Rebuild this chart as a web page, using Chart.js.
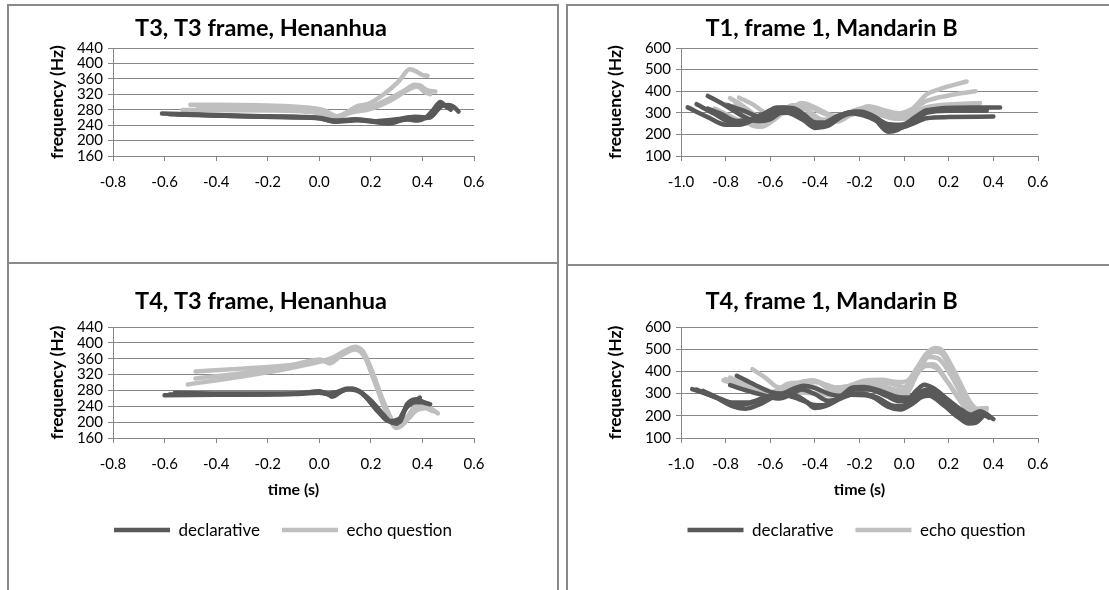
<!DOCTYPE html>
<html>
<head>
<meta charset="utf-8">
<script src="https://cdn.jsdelivr.net/npm/chart.js@4.4.1/dist/chart.umd.min.js"></script>
<style>
  body { margin: 0; background: #fff; width: 1109px; height: 590px; overflow: hidden; position: relative; }
  .panel { position: absolute; box-sizing: border-box; border: 2px solid #898989; }
  canvas { position: absolute; }
</style>
</head>
<body>
<div class="panel" style="left:7px;top:4px;width:552px;height:260px"></div>
<div class="panel" style="left:7px;top:262px;width:552px;height:400px"></div>
<div class="panel" style="left:566px;top:4px;width:600px;height:262px"></div>
<div class="panel" style="left:566px;top:264px;width:600px;height:400px"></div>
<canvas id="tl" width="548" height="256" style="left:9px;top:6px;width:548px;height:256px"></canvas>
<canvas id="tr" width="577" height="258" style="left:568px;top:6px;width:577px;height:258px"></canvas>
<canvas id="bl" width="548" height="326" style="left:9px;top:264px;width:548px;height:326px"></canvas>
<canvas id="br" width="577" height="324" style="left:568px;top:266px;width:577px;height:324px"></canvas>
<script>
// tick labels
const henanX = [-0.8, -0.6, -0.4, -0.2, 0.0, 0.2, 0.4, 0.6];
const henanY = [160, 200, 240, 280, 320, 360, 400, 440];
const mandX = [-1.0, -0.8, -0.6, -0.4, -0.2, 0.0, 0.2, 0.4, 0.6];
const mandY = [100, 200, 300, 400, 500, 600];

// T3, T3 frame, Henanhua  [time (s), frequency (Hz)]
const hT3D1 = [[-0.61,270],[-0.4,266],[-0.2,263],[-0.05,261],[0.0,258],[0.06,250],[0.14,254],[0.22,250],[0.3,255],[0.37,262],[0.41,260],[0.44,278],[0.47,300],[0.49,290],[0.51,280]];
const hT3D2 = [[-0.58,268],[-0.3,263],[-0.1,260],[0.0,258],[0.06,249],[0.15,253],[0.27,244],[0.34,255],[0.38,252],[0.42,262],[0.46,285],[0.5,292],[0.52,288],[0.54,275]];
const hT3D3 = [[-0.55,268],[-0.2,262],[0.0,259],[0.06,252],[0.14,255],[0.22,250],[0.3,252],[0.38,258],[0.43,260],[0.46,280],[0.48,292],[0.5,285]];
const hT3E1 = [[-0.5,293],[-0.2,291],[-0.05,286],[0.02,278],[0.07,263],[0.11,275],[0.15,290],[0.19,295],[0.25,320],[0.31,355],[0.35,385],[0.38,378],[0.4,370],[0.42,368]];
const hT3E2 = [[-0.47,286],[-0.2,284],[0.0,281],[0.06,262],[0.12,275],[0.19,285],[0.26,305],[0.33,330],[0.37,345],[0.39,343],[0.42,330],[0.45,327]];
const hT3E3 = [[-0.53,279],[-0.2,278],[0.0,271],[0.06,258],[0.12,272],[0.2,282],[0.28,305],[0.34,330],[0.38,340],[0.41,325],[0.43,320]];

// T1, frame 1, Mandarin B
const mT1D1 = [[-0.97,325],[-0.88,280],[-0.8,245],[-0.74,245],[-0.66,275],[-0.58,318],[-0.54,325],[-0.48,305],[-0.42,255],[-0.38,240],[-0.32,265],[-0.26,298],[-0.21,305],[-0.14,280],[-0.07,212],[-0.03,220],[0.02,258],[0.08,300],[0.18,322],[0.3,325],[0.43,325]];
const mT1D2 = [[-0.93,340],[-0.85,295],[-0.78,258],[-0.72,255],[-0.64,290],[-0.58,305],[-0.52,300],[-0.45,265],[-0.4,230],[-0.35,245],[-0.28,290],[-0.22,305],[-0.15,285],[-0.08,235],[-0.03,228],[0.02,245],[0.1,300],[0.2,310],[0.37,310]];
const mT1D3 = [[-0.88,378],[-0.82,345],[-0.74,295],[-0.66,262],[-0.6,270],[-0.55,300],[-0.5,300],[-0.42,255],[-0.36,255],[-0.3,285],[-0.24,298],[-0.16,280],[-0.08,240],[-0.02,232],[0.04,250],[0.1,275],[0.2,280],[0.4,283]];
const mT1D4 = [[-0.79,335],[-0.72,310],[-0.64,280],[-0.6,285],[-0.55,322],[-0.5,315],[-0.44,280],[-0.38,248],[-0.32,262],[-0.25,300],[-0.19,305],[-0.12,272],[-0.06,240],[-0.01,238],[0.05,270],[0.12,310],[0.25,318],[0.36,318]];
const mT1D5 = [[-0.88,320],[-0.82,295],[-0.75,262],[-0.69,270],[-0.62,300],[-0.57,325],[-0.5,322],[-0.44,285],[-0.39,232],[-0.34,240],[-0.28,282],[-0.22,300],[-0.15,292],[-0.08,250],[-0.02,245],[0.04,265],[0.1,312],[0.22,318],[0.37,318]];
const mT1E1 = [[-0.78,368],[-0.72,330],[-0.66,285],[-0.62,275],[-0.56,300],[-0.5,335],[-0.45,335],[-0.38,305],[-0.32,285],[-0.26,295],[-0.19,320],[-0.12,318],[-0.05,295],[0.0,290],[0.05,330],[0.1,385],[0.16,410],[0.28,445]];
const mT1E2 = [[-0.74,370],[-0.68,340],[-0.62,300],[-0.57,290],[-0.5,325],[-0.46,345],[-0.4,325],[-0.33,290],[-0.28,280],[-0.22,305],[-0.16,330],[-0.08,310],[-0.02,298],[0.04,320],[0.1,355],[0.2,380],[0.32,400]];
const mT1E3 = [[-0.8,340],[-0.74,295],[-0.68,240],[-0.64,235],[-0.58,270],[-0.5,330],[-0.44,315],[-0.37,268],[-0.3,260],[-0.22,305],[-0.16,325],[-0.08,300],[-0.02,290],[0.05,310],[0.12,330],[0.34,345]];
const mT1E4 = [[-0.85,320],[-0.78,285],[-0.7,250],[-0.64,255],[-0.58,285],[-0.5,310],[-0.42,280],[-0.35,258],[-0.28,282],[-0.2,315],[-0.12,295],[-0.04,272],[0.02,275],[0.1,318],[0.33,338]];
const mT1E5 = [[-0.76,335],[-0.7,300],[-0.62,282],[-0.52,300],[-0.44,290],[-0.36,268],[-0.28,280],[-0.18,300],[-0.08,285],[0.0,278],[0.08,305],[0.18,325],[0.3,335]];

// T4, T3 frame, Henanhua
const hT4D1 = [[-0.6,268],[-0.4,269],[-0.2,270],[-0.08,272],[0.0,278],[0.03,272],[0.07,276],[0.11,285],[0.15,280],[0.2,255],[0.25,218],[0.28,200],[0.31,200],[0.34,245],[0.36,256],[0.38,258],[0.41,248]];
const hT4D2 = [[-0.56,274],[-0.3,272],[-0.1,272],[0.0,276],[0.03,272],[0.05,264],[0.08,275],[0.11,283],[0.16,275],[0.22,235],[0.27,203],[0.3,196],[0.33,230],[0.36,250],[0.4,250],[0.43,245]];
const hT4D3 = [[-0.58,270],[-0.3,270],[-0.1,271],[0.0,274],[0.04,270],[0.09,280],[0.13,284],[0.17,270],[0.23,225],[0.27,202],[0.31,208],[0.34,238],[0.37,252],[0.39,262]];
const hT4E1 = [[-0.48,328],[-0.3,335],[-0.1,345],[0.0,358],[0.02,355],[0.04,348],[0.09,372],[0.14,388],[0.17,378],[0.21,320],[0.25,250],[0.29,195],[0.31,188],[0.34,205],[0.38,232],[0.41,240],[0.43,235],[0.46,222]];
const hT4E2 = [[-0.48,310],[-0.25,328],[-0.05,350],[0.01,355],[0.04,350],[0.09,370],[0.14,383],[0.18,360],[0.22,295],[0.26,235],[0.3,190],[0.33,208],[0.37,228],[0.41,235],[0.44,228]];
const hT4E3 = [[-0.51,295],[-0.3,315],[-0.12,335],[0.0,352],[0.05,362],[0.1,380],[0.14,390],[0.17,375],[0.21,310],[0.26,225],[0.3,185],[0.33,200],[0.37,240],[0.4,245],[0.43,238]];

// T4, frame 1, Mandarin B
const mT4D1 = [[-0.95,320],[-0.86,290],[-0.77,260],[-0.7,260],[-0.62,285],[-0.55,295],[-0.5,285],[-0.44,262],[-0.39,240],[-0.33,258],[-0.26,292],[-0.2,300],[-0.12,282],[-0.05,245],[0.0,243],[0.05,265],[0.09,300],[0.12,302],[0.18,265],[0.24,215],[0.29,180],[0.33,190],[0.36,210],[0.4,185]];
const mT4D2 = [[-0.93,318],[-0.84,280],[-0.76,240],[-0.71,232],[-0.64,255],[-0.57,290],[-0.5,295],[-0.44,265],[-0.4,235],[-0.35,245],[-0.28,280],[-0.22,298],[-0.15,290],[-0.07,240],[-0.02,228],[0.03,250],[0.08,285],[0.11,290],[0.18,245],[0.24,195],[0.29,165],[0.32,168],[0.36,205]];
const mT4D3 = [[-0.78,338],[-0.7,312],[-0.62,290],[-0.56,278],[-0.5,300],[-0.46,318],[-0.4,298],[-0.34,268],[-0.28,282],[-0.22,318],[-0.16,318],[-0.08,290],[-0.02,265],[0.02,268],[0.07,305],[0.1,318],[0.16,290],[0.22,240],[0.28,200],[0.32,192],[0.37,205]];
const mT4D4 = [[-0.75,380],[-0.67,340],[-0.6,308],[-0.55,300],[-0.49,325],[-0.45,335],[-0.4,325],[-0.34,300],[-0.29,290],[-0.23,328],[-0.18,330],[-0.1,310],[-0.03,285],[0.02,282],[0.06,318],[0.09,340],[0.13,325],[0.2,270],[0.26,225],[0.3,205],[0.34,220],[0.38,198]];
const mT4D5 = [[-0.9,312],[-0.82,275],[-0.74,248],[-0.66,265],[-0.59,288],[-0.52,292],[-0.46,275],[-0.41,250],[-0.36,248],[-0.3,275],[-0.24,295],[-0.17,292],[-0.1,268],[-0.04,242],[0.01,250],[0.06,285],[0.1,305],[0.14,298],[0.2,250],[0.26,205],[0.31,190],[0.35,205],[0.38,192]];
const mT4E1 = [[-0.68,410],[-0.62,370],[-0.57,330],[-0.53,325],[-0.48,345],[-0.43,358],[-0.38,350],[-0.32,328],[-0.25,335],[-0.18,358],[-0.1,362],[-0.03,352],[0.01,355],[0.06,420],[0.1,480],[0.14,505],[0.17,495],[0.21,430],[0.26,330],[0.3,255],[0.33,232],[0.37,235]];
const mT4E2 = [[-0.8,365],[-0.72,330],[-0.64,305],[-0.58,310],[-0.52,345],[-0.46,350],[-0.41,360],[-0.35,340],[-0.28,322],[-0.2,340],[-0.14,355],[-0.06,345],[0.0,330],[0.05,395],[0.1,470],[0.14,490],[0.17,478],[0.22,390],[0.27,280],[0.31,225],[0.34,222],[0.37,230]];
const mT4E3 = [[-0.78,372],[-0.7,335],[-0.62,305],[-0.56,308],[-0.5,330],[-0.45,355],[-0.39,352],[-0.32,315],[-0.26,318],[-0.2,345],[-0.12,338],[-0.04,318],[0.0,312],[0.05,380],[0.1,425],[0.14,418],[0.2,345],[0.26,255],[0.3,215],[0.33,212],[0.36,218]];
const mT4E4 = [[-0.81,360],[-0.74,335],[-0.66,300],[-0.59,298],[-0.53,322],[-0.47,325],[-0.41,332],[-0.35,305],[-0.28,308],[-0.2,338],[-0.12,330],[-0.04,300],[0.0,292],[0.06,390],[0.11,465],[0.15,460],[0.2,400],[0.26,290],[0.31,215],[0.35,225]];
const mT4E5 = [[-0.76,345],[-0.68,315],[-0.6,292],[-0.53,305],[-0.46,305],[-0.4,300],[-0.33,292],[-0.25,320],[-0.16,338],[-0.07,310],[-0.01,302],[0.05,380],[0.09,430],[0.13,432],[0.19,360],[0.25,270],[0.3,210],[0.34,205],[0.37,212]];

const DARK = '#595959';
const LIGHT = '#bfbfbf';
const GRID = '#868686';

Chart.defaults.font.family = "Lato, 'Open Sans', sans-serif";
Chart.defaults.color = '#000';

// title sits a little left of the chart centre in the original
const shiftTitle = {
    id: 'shiftTitle',
    afterLayout(chart, args, opts) {
        if (chart.titleBlock) {
            chart.titleBlock.left -= opts.dx;
            chart.titleBlock.right -= opts.dx;
        }
    }
};

function lineSet(label, pts, color) {
    return {
        label: label,
        data: pts.map(p => ({ x: p[0], y: p[1] })),
        borderColor: color,
        backgroundColor: color,
        borderWidth: 4.5,
        pointRadius: 0,
        fill: false,
        cubicInterpolationMode: 'monotone',
        borderCapStyle: 'round',
        borderJoinStyle: 'round'
    };
}

function drawPanel(canvasId, title, decl, echo, xTicks, yTicks, g) {
    const datasets = decl.map(s => lineSet('declarative', s, DARK))
        .concat(echo.map(s => lineSet('echo question', s, LIGHT)));

    new Chart(document.getElementById(canvasId), {
        type: 'line',
        data: { datasets: datasets },
        plugins: [shiftTitle],
        options: {
            responsive: false,
            animation: false,
            events: [],
            layout: { padding: { top: 0, left: 0, right: 0, bottom: g.padBottom } },
            plugins: {
                shiftTitle: { dx: g.titleShift },
                title: {
                    display: true,
                    text: title,
                    font: { size: 23.5, weight: 'bold' },
                    padding: { top: g.titleTop, bottom: g.titleBottom }
                },
                legend: {
                    display: g.legend,
                    position: 'bottom',
                    labels: {
                        // one entry per group
                        filter: (item, data) => data.datasets.findIndex(d => d.label === item.text) === item.datasetIndex,
                        usePointStyle: true,
                        pointStyle: 'line',
                        pointStyleWidth: 56,
                        padding: 22,
                        font: { size: 17 }
                    }
                },
                tooltip: { enabled: false }
            },
            scales: {
                x: {
                    type: 'linear',
                    min: xTicks[0],
                    max: xTicks[xTicks.length - 1],
                    afterBuildTicks: s => { s.ticks = xTicks.map(v => ({ value: v })); },
                    afterFit: s => { s.height = g.xHeight; },
                    ticks: { autoSkip: false, maxRotation: 0, padding: 12, font: { size: 15 }, callback: v => v.toFixed(1) },
                    grid: { drawOnChartArea: false, tickLength: 5, color: GRID },
                    border: { color: GRID },
                    title: { display: g.legend, text: 'time (s)', font: { size: 16, weight: 'bold' }, padding: 0 }
                },
                y: {
                    type: 'linear',
                    min: yTicks[0],
                    max: yTicks[yTicks.length - 1],
                    afterBuildTicks: s => { s.ticks = yTicks.map(v => ({ value: v })); },
                    afterFit: s => { s.width = g.yWidth; },
                    ticks: { autoSkip: false, padding: 5, font: { size: 15 } },
                    grid: { tickLength: 5, color: GRID },
                    border: { color: GRID },
                    title: { display: true, text: 'frequency (Hz)', font: { size: 17.5, weight: 'bold' }, padding: { top: g.yTitlePad, bottom: 0 } }
                },
                // empty right axis, only keeps the plot narrower than the frame
                pad: {
                    type: 'linear',
                    position: 'right',
                    ticks: { display: false },
                    grid: { display: false },
                    border: { display: false },
                    afterFit: s => { s.width = g.rightPad; }
                }
            }
        }
    });
}

drawPanel('tl', 'T3, T3 frame, Henanhua', [hT3D1, hT3D2, hT3D3], [hT3E1, hT3E2, hT3E3], henanX, henanY,
    { titleTop: 7.9, titleBottom: 5.9, xHeight: 106, padBottom: 0, yWidth: 104, rightPad: 83, yTitlePad: 37.5, titleShift: 22, legend: false });
drawPanel('tr', 'T1, frame 1, Mandarin B', [mT1D1, mT1D2, mT1D3, mT1D4, mT1D5], [mT1E1, mT1E2, mT1E3, mT1E4, mT1E5], mandX, mandY,
    { titleTop: 7.9, titleBottom: 5.9, xHeight: 108, padBottom: 0, yWidth: 113, rightPad: 107, yTitlePad: 36.5, titleShift: 25, legend: false });
drawPanel('bl', 'T4, T3 frame, Henanhua', [hT4D1, hT4D2, hT4D3], [hT4E1, hT4E2, hT4E3], henanX, henanY,
    { titleTop: 22.9, titleBottom: 11.9, xHeight: 61.6, padBottom: 41.4, yWidth: 104, rightPad: 83, yTitlePad: 37.5, titleShift: 22, legend: true });
drawPanel('br', 'T4, frame 1, Mandarin B', [mT4D1, mT4D2, mT4D3, mT4D4, mT4D5], [mT4E1, mT4E2, mT4E3, mT4E4, mT4E5], mandX, mandY,
    { titleTop: 20.9, titleBottom: 11.9, xHeight: 61.6, padBottom: 41.4, yWidth: 113, rightPad: 107, yTitlePad: 36.5, titleShift: 25, legend: true });
</script>
</body>
</html>
